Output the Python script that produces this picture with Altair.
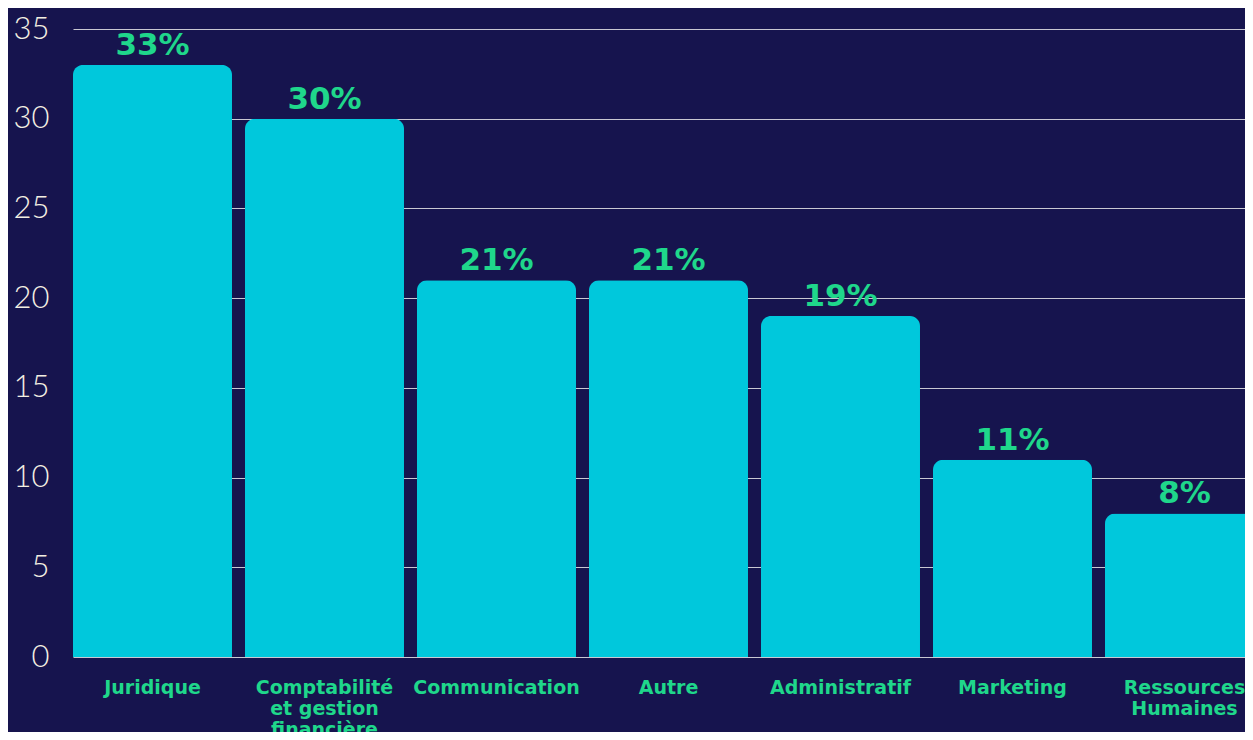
import altair as alt
import pandas as pd

categories = ["Juridique", "Comptabilité|et gestion|financière", "Communication", "Autre",
              "Administratif", "Marketing", "Ressources|Humaines"]
values = [33, 30, 21, 21, 19, 11, 8]
value_labels = ["33%", "30%", "21%", "21%", "19%", "11%", "8%"]
y_ticks = [0, 5, 10, 15, 20, 25, 30, 35]

df = pd.DataFrame({"cat": categories, "val": values, "lab": value_labels})

BG = "#16144e"
BAR = "#00c8dc"
GREEN = "#1fd78b"
CREAM = "#f3efe2"

x = alt.X("cat:N", sort=categories, title=None,
          scale=alt.Scale(range=[0, 1191], paddingInner=0.0756, paddingOuter=0),
          axis=alt.Axis(labelAngle=0, labelExpr="split(datum.label, '|')", ticks=False,
                        domain=False, labelPadding=21, labelFont="DejaVu Sans",
                        labelFontWeight="bold", labelFontSize=19, labelColor=GREEN,
                        labelLineHeight=21, labelOverlap=False, labelBound=False))
y = alt.Y("val:Q", title=None, scale=alt.Scale(domain=[0, 35], nice=False),
          axis=alt.Axis(values=y_ticks, grid=True, gridColor="#c9c8d2", gridWidth=1,
                        domain=False, ticks=False, labelPadding=24, labelFont="Lato",
                        labelFontWeight=300, labelFontSize=31, labelColor=CREAM))

bars = alt.Chart(df).mark_bar(color=BAR, cornerRadiusTopLeft=10, cornerRadiusTopRight=10).encode(x=x, y=y)
text = alt.Chart(df).mark_text(color=GREEN, font="DejaVu Sans", fontWeight="bold", fontSize=31,
                               baseline="alphabetic", dy=-10).encode(
    x=alt.X("cat:N", sort=categories), y="val:Q", text="lab:N")

chart = (bars + text).properties(
    width=1172, height=628,
    autosize=alt.AutoSizeParams(type="none"),
    padding={"left": 65, "top": 21, "right": 0, "bottom": 75},
    background=BG,
).configure_view(stroke=None)

chart.save("out.html", embed_options={"renderer": "svg", "actions": False})
